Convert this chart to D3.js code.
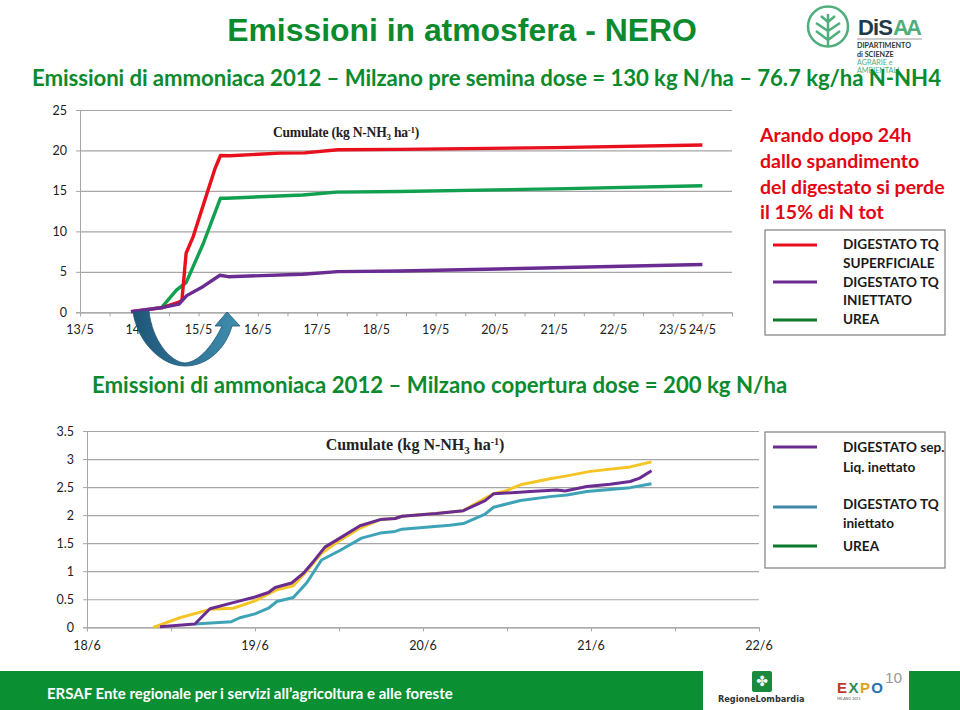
<!DOCTYPE html>
<script src="https://d3js.org/d3.v7.min.js"></script>
<style>
html, body { margin: 0; background: #fff; }
text { font-family: Lato, sans-serif; }
.axis text { font-size: 12.5px; fill: #222; font-family: Lato, sans-serif; }
.axis line, .axis path { stroke: #a6a6a6; }
.grid line { stroke: #a6a6a6; stroke-width: 1.2; }
.grid path { display: none; }
.curve { fill: none; stroke-linejoin: round; }
</style>
<svg width="960" height="710"></svg>
<script>
// first chart, 13/5 - 24/5, [day of month, cumulated value]
var topYTicks = [0, 5, 10, 15, 20, 25];
var topDayLabels = [[13, "13/5"], [14, "14/5"], [15, "15/5"], [16, "16/5"], [17, "17/5"], [18, "18/5"],
	[19, "19/5"], [20, "20/5"], [21, "21/5"], [22, "22/5"], [23, "23/5"], [23.5, "24/5"]];
var redTop = [[13.86, 0.08], [14.40, 0.6], [14.67, 1.25], [14.72, 1.5], [14.79, 7.3], [14.91, 9.36], [15.16, 15.1],
	[15.28, 17.8], [15.37, 19.38], [15.53, 19.34], [16.37, 19.67], [16.79, 19.7], [17.35, 20.08], [18.4, 20.13],
	[21, 20.35], [23.5, 20.67]];
var purpleTop = [[13.86, 0.08], [14.40, 0.6], [14.67, 1.0], [14.80, 2.06], [15.08, 3.2], [15.36, 4.58], [15.5, 4.4],
	[16.76, 4.7], [17.35, 5.03], [18.4, 5.1], [21, 5.5], [23.5, 5.9]];
var greenTop = [[14.38, 0.6], [14.63, 2.76], [14.79, 3.67], [15.08, 8.5], [15.37, 14.1], [15.47, 14.1],
	[16.76, 14.5], [17.33, 14.85], [18.4, 14.93], [21, 15.25], [23.5, 15.63]];

// second chart, 18/6 - 22/6
var bottomYTicks = [0, 0.5, 1, 1.5, 2, 2.5, 3, 3.5];
var bottomYLabels = ["0", "0.5", "1", "1.5", "2", "2.5", "3", "3.5"];
var bottomDayLabels = [[18, "18/6"], [19, "19/6"], [20, "20/6"], [21, "21/6"], [22, "22/6"]];
var purpleBottom = [[18.434, 0.01], [18.642, 0.06], [18.732, 0.33], [18.87, 0.44], [19.0, 0.54], [19.08, 0.62],
	[19.12, 0.71], [19.218, 0.79], [19.287, 0.96], [19.347, 1.17], [19.416, 1.43], [19.505, 1.59], [19.625, 1.81],
	[19.745, 1.92], [19.834, 1.94], [19.874, 1.98], [20.08, 2.03], [20.24, 2.08], [20.37, 2.26], [20.42, 2.38],
	[20.64, 2.42], [20.796, 2.45], [20.846, 2.43], [20.975, 2.51], [21.114, 2.55], [21.233, 2.6], [21.29, 2.66], [21.36, 2.79]];
var yellowBottom = [[18.394, 0], [18.553, 0.17], [18.732, 0.32], [18.87, 0.34], [19.0, 0.47], [19.13, 0.67],
	[19.228, 0.74], [19.307, 1.0], [19.396, 1.32], [19.505, 1.55], [19.625, 1.77], [19.745, 1.92], [19.834, 1.94],
	[19.874, 1.98], [20.08, 2.03], [20.24, 2.08], [20.37, 2.30], [20.42, 2.38], [20.48, 2.42], [20.58, 2.54],
	[20.756, 2.65], [20.856, 2.7], [20.995, 2.78], [21.233, 2.86], [21.36, 2.95]];
var tealBottom = [[18.642, 0.06], [18.86, 0.10], [18.91, 0.17], [19.0, 0.24], [19.08, 0.34], [19.13, 0.46],
	[19.228, 0.53], [19.307, 0.79], [19.396, 1.2], [19.505, 1.37], [19.634, 1.59], [19.745, 1.68], [19.834, 1.71],
	[19.874, 1.75], [20.16, 1.82], [20.24, 1.85], [20.37, 2.02], [20.42, 2.14], [20.58, 2.26], [20.756, 2.33],
	[20.856, 2.36], [20.975, 2.42], [21.233, 2.49], [21.36, 2.56]];

var GREEN = "#0b8a2e", RED = "#e8101c", PURPLE = "#6a2c91", UREA = "#10a050", YELLOW = "#f5c526", TEAL = "#3fa3b8";

var svg = d3.select("svg");
var defs = svg.append("defs");
var grad = defs.append("linearGradient").attr("id", "arrowFill");
grad.append("stop").attr("offset", "0%").attr("stop-color", "#1f5578");
grad.append("stop").attr("offset", "100%").attr("stop-color", "#3f8fb0");

function label(x, y, str, size, color, weight, family, anchor) {
	return svg.append("text").attr("x", x).attr("y", y).attr("font-size", size)
		.attr("fill", color).attr("font-weight", weight || "normal")
		.style("font-family", family || "Lato, sans-serif")
		.attr("text-anchor", anchor || "start").text(str);
}

// DiSAA logo, sits under the subtitle as in the slide
var logo = svg.append("g").attr("fill", "none").attr("stroke", "#4fae7c").attr("stroke-width", 2.5);
logo.append("circle").attr("cx", 828).attr("cy", 26.5).attr("r", 20);
logo.append("path").attr("d", "M828,14 V46 M828,22 L821,16 M828,22 L835,16 M828,31 L816,23 M828,31 L840,23 M828,40 L816,31 M828,40 L840,31");
label(858, 35, "DiS", 22, "#1f3a4a", "bold", "'Liberation Sans', sans-serif").attr("textLength", 35);
label(893, 35, "AA", 22, "#4fae7c", "bold", "'Liberation Sans', sans-serif").attr("textLength", 29);
svg.append("line").attr("x1", 857).attr("x2", 922).attr("y1", 39).attr("y2", 39).attr("stroke", "#999");
label(857, 48, "DIPARTIMENTO", 7.2, "#333", "bold");
label(857, 56.5, "di SCIENZE", 7.2, "#333", "bold");
label(857, 65, "AGRARIE e", 7.2, "#4fae7c", "normal");
label(857, 73, "AMBIENTALI", 7.2, "#4fae7c", "normal");

// headings
label(462, 41, "Emissioni in atmosfera - NERO", 31.9, GREEN, "bold", "'Liberation Sans', sans-serif", "middle");
label(32, 86, "Emissioni di ammoniaca 2012 – Milzano pre semina dose = 130 kg N/ha – 76.7 kg/ha N-NH4", 22.2, GREEN, "bold")
	.attr("textLength", 909);
label(92, 393, "Emissioni di ammoniaca 2012 – Milzano copertura dose = 200 kg N/ha", 22.2, GREEN, "bold");

// draws one chart with its grid, half day ticks and curves
function drawChart(opt) {
	var x = d3.scaleLinear().domain(opt.xDomain).range(opt.xRange);
	var y = d3.scaleLinear().domain(opt.yDomain).range(opt.yRange);
	var g = svg.append("g");

	g.append("g").attr("class", "grid")
		.attr("transform", "translate(" + opt.xRange[0] + ",0)")
		.call(d3.axisLeft(y).tickValues(opt.yTicks).tickSize(-(opt.xRange[1] - opt.xRange[0])).tickFormat(""));

	g.append("g").attr("class", "axis")
		.attr("transform", "translate(0," + opt.yRange[0] + ")")
		.call(d3.axisBottom(x).tickValues(d3.range(opt.xDomain[0], opt.xDomain[1] + 0.01, 0.5)).tickSize(4).tickFormat(""));

	g.append("g").attr("class", "axis")
		.attr("transform", "translate(" + opt.xRange[0] + ",0)")
		.call(d3.axisLeft(y).tickValues(opt.yTicks).tickSize(4).tickFormat(function(d, i) { return opt.yLabels[i]; }))
		.selectAll("text").attr("x", -13);

	g.selectAll(".dayLabel").data(opt.days).enter().append("text")
		.attr("class", "dayLabel")
		.attr("x", function(d) { return x(d[0]); })
		.attr("y", opt.yRange[0] + opt.dayOffset)
		.attr("text-anchor", "middle")
		.attr("font-size", 12.5)
		.attr("fill", "#222")
		.text(function(d) { return d[1]; });

	var line = d3.line().x(function(d) { return x(d[0]); }).y(function(d) { return y(d[1]); });
	g.selectAll(".curve").data(opt.series).enter().append("path")
		.attr("class", "curve")
		.attr("stroke", function(d) { return d.color; })
		.attr("stroke-width", opt.lineWidth)
		.attr("d", function(d) { return line(d.values); });
}

drawChart({
	xDomain: [13, 24], xRange: [80, 732], yDomain: [0, 25], yRange: [312.3, 110],
	yTicks: topYTicks, yLabels: topYTicks, days: topDayLabels, dayOffset: 22, lineWidth: 3.4,
	series: [{color: UREA, values: greenTop}, {color: RED, values: redTop}, {color: PURPLE, values: purpleTop}]
});

drawChart({
	xDomain: [18, 22], xRange: [87, 759], yDomain: [0, 3.5], yRange: [627.3, 431],
	yTicks: bottomYTicks, yLabels: bottomYLabels, days: bottomDayLabels, dayOffset: 23, lineWidth: 3,
	series: [{color: YELLOW, values: yellowBottom}, {color: TEAL, values: tealBottom}, {color: PURPLE, values: purpleBottom}]
});

// chart titles
var t1 = label(346, 137, "", 13.6, "#222", "bold", "'Liberation Serif', serif", "middle").attr("letter-spacing", -0.25);
t1.append("tspan").text("Cumulate (kg N-NH");
t1.append("tspan").attr("dy", 3).attr("font-size", 9).text("3");
t1.append("tspan").attr("dy", -3).text(" ha");
t1.append("tspan").attr("dy", -4).attr("font-size", 9).text("-1");
t1.append("tspan").attr("dy", 4).text(")");
var t2 = label(415, 450, "", 16, "#222", "bold", "'Liberation Serif', serif", "middle");
t2.append("tspan").text("Cumulate (kg N-NH");
t2.append("tspan").attr("dy", 4).attr("font-size", 11).text("3");
t2.append("tspan").attr("dy", -4).text(" ha");
t2.append("tspan").attr("dy", -5).attr("font-size", 10).text("-1");
t2.append("tspan").attr("dy", 5).text(")");

// blue arrow over the first axis
svg.append("path")
	.attr("fill", "url(#arrowFill)").attr("stroke", "#1f5578").attr("stroke-width", 0.8)
	.attr("d", "M133,312 C137,340 160,366 185,366 C208,366 226,348 232,326 L240,326 L227,312 L215,326 L222,326 C214,343 200,362 185,363 C170,362 152,340 149,311 Z");

// red note
["Arando dopo 24h", "dallo spandimento", "del digestato si perde", "il 15% di N tot"].forEach(function(s, i) {
	label(760, 142 + i * 25.8, s, 19.5, "#e30613", "bold");
});

// legends
function legendBox(x, y, w, h, rows, texts) {
	svg.append("rect").attr("x", x).attr("y", y).attr("width", w).attr("height", h)
		.attr("fill", "#fff").attr("stroke", "#7f7f7f").attr("stroke-width", 1.2);
	rows.forEach(function(r) {
		svg.append("line").attr("x1", 773).attr("x2", 817).attr("y1", r[0]).attr("y2", r[0])
			.attr("stroke", r[1]).attr("stroke-width", 3);
	});
	texts.forEach(function(t) { label(843, t[0], t[1], 13.6, "#1a1a1a", "bold"); });
}
legendBox(765, 230, 180, 105,
	[[245, "#e8101c"], [282, PURPLE], [320, "#0b7a2a"]],
	[[249, "DIGESTATO TQ"], [268, "SUPERFICIALE"], [287, "DIGESTATO TQ"], [305, "INIETTATO"], [324, "UREA"]]);
legendBox(765, 432, 180, 136,
	[[447, PURPLE], [507, "#3f88a8"], [546, "#0b7a2a"]],
	[[452, "DIGESTATO sep."], [472, "Liq. inettato"], [509, "DIGESTATO TQ"], [528, "iniettato"], [551, "UREA"]]);

// footer
svg.append("rect").attr("x", 0).attr("y", 671).attr("width", 703).attr("height", 39).attr("fill", "#0a8f33");
svg.append("rect").attr("x", 909).attr("y", 671).attr("width", 51).attr("height", 39).attr("fill", "#0a8f33");
label(47, 699, "ERSAF  Ente regionale per i servizi all’agricoltura e alle foreste", 15, "#fff", "bold");
svg.append("rect").attr("x", 752).attr("y", 671).attr("width", 20).attr("height", 21).attr("rx", 2).attr("fill", "#1b8a3c");
label(762, 686, "✤", 14, "#fff", "bold", "'DejaVu Sans', sans-serif", "middle");
label(718, 702, "RegioneLombardia", 8.2, "#333", "bold", "'DejaVu Sans', sans-serif");
var expo = label(837, 693, "", 15, "#2a7a4a", "bold", "'Liberation Sans', sans-serif").attr("textLength", 46);
[["E", "#c0392b"], ["X", "#2e8b57"], ["P", "#d9a520"], ["O", "#2a6fb0"]].forEach(function(c) {
	expo.append("tspan").attr("fill", c[1]).text(c[0]);
});
label(837, 700, "MILANO 2015", 3.6, "#555");
label(885, 683, "10", 15.5, "#999", "normal", "'Liberation Sans', sans-serif");
</script>
